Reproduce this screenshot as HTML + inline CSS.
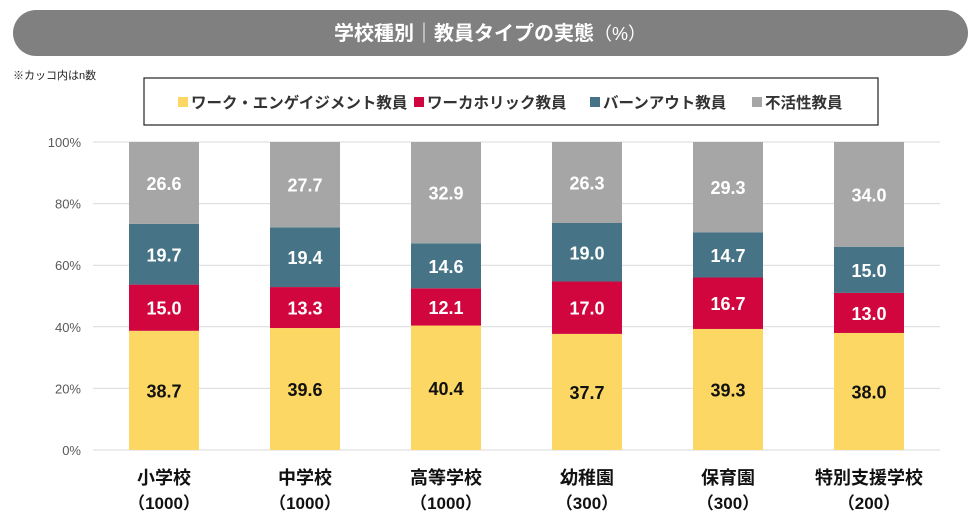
<!DOCTYPE html>
<html><head><meta charset="utf-8"><style>
body{margin:0;width:980px;height:520px;background:#fff;overflow:hidden;font-family:"Liberation Sans","Noto Sans CJK JP",sans-serif}
</style></head><body>
<svg id="c" width="980" height="520" style="position:absolute;left:0;top:0">
<rect x="13" y="10" width="955" height="46" rx="23" fill="#808080"/>
<text x="490" y="40" text-anchor="middle" fill="#fff" font-size="20" font-weight="bold" font-family="Liberation Sans,Noto Sans CJK JP,sans-serif">学校種別｜教員タイプの実態<tspan font-weight="normal" font-size="18">（%）</tspan></text>
<text x="13" y="79" font-size="11" fill="#222" font-family="Liberation Sans,Noto Sans CJK JP,sans-serif">※カッコ内はn数</text>
<rect x="144" y="78" width="734" height="47" fill="#fff" stroke="#222" stroke-width="1.2"/>
<g id="grid"></g><g id="bars"></g><g id="legend"></g>
</svg>
<script>
const categories=["小学校","中学校","高等学校","幼稚園","保育園","特別支援学校"];
const sampleSizes=["（1000）","（1000）","（1000）","（300）","（300）","（200）"];
const engaged=[38.7,39.6,40.4,37.7,39.3,38.0];
const workaholic=[15.0,13.3,12.1,17.0,16.7,13.0];
const burnout=[19.7,19.4,14.6,19.0,14.7,15.0];
const inactive=[26.6,27.7,32.9,26.3,29.3,34.0];
const seriesNames=["ワーク・エンゲイジメント教員","ワーカホリック教員","バーンアウト教員","不活性教員"];
const yTicks=[0,20,40,60,80,100];
const NS="http://www.w3.org/2000/svg";
const colors=["#FDD764","#D1063E","#467486","#A6A6A6"];
const textCol=["#111","#fff","#fff","#fff"];
const FF="Liberation Sans,Noto Sans CJK JP,sans-serif";
const y0=450,yH=308,x0=164,dx=141,bw=70;
const yS=v=>y0-v/100*yH, xS=i=>x0+i*dx;
function mk(t,a,p){const e=document.createElementNS(NS,t);for(const k in a)e.setAttribute(k,a[k]);(p||document.getElementById('c')).appendChild(e);return e;}
const grid=document.getElementById('grid');
yTicks.forEach(v=>{
 const l=mk('line',{x1:93,x2:940,y1:yS(v),y2:yS(v),stroke:'#d9d9d9','stroke-width':1},grid);
 
 
 const t=mk('text',{x:81,y:yS(v)+5,'text-anchor':'end','font-size':13,fill:'#595959','font-family':FF},grid);
 t.textContent=v+'%';
 
 
});
const series=[engaged,workaholic,burnout,inactive];
const bars=document.getElementById('bars');
categories.forEach((c,i)=>{
 let acc=0;
 series.forEach((s,k)=>{
  const v=s[i];
  const r=mk('rect',{x:xS(i)-bw/2,y:yS(acc+v),width:bw,height:yS(acc)-yS(acc+v),fill:colors[k]},bars);
  
  
  const t=mk('text',{x:xS(i),y:(yS(acc)+yS(acc+v))/2+7,'text-anchor':'middle','font-size':18,'font-weight':'bold',fill:textCol[k],'font-family':FF},bars);
  t.textContent=v.toFixed(1);
  
  
  acc+=v;
 });
 const t1=mk('text',{x:xS(i),y:484,'text-anchor':'middle','font-size':18,'font-weight':'bold',fill:'#111','font-family':FF},bars);
 t1.textContent=c;
 
 
 const t2=mk('text',{x:xS(i),y:509,'text-anchor':'middle','font-size':17,'font-weight':'bold',fill:'#111','font-family':FF},bars);
 t2.textContent=sampleSizes[i];
 
 
});
const lg=document.getElementById('legend');
const lx=[178,414,590,752];
seriesNames.forEach((n,k)=>{
 const r=mk('rect',{x:lx[k],y:97,width:10,height:10,fill:colors[k]},lg);
 
 
 const t=mk('text',{x:lx[k]+13,y:108,'font-size':15.5,'font-weight':'bold',fill:'#333','font-family':FF},lg);
 t.textContent=n;
 
 
});
</script>
</body></html>
